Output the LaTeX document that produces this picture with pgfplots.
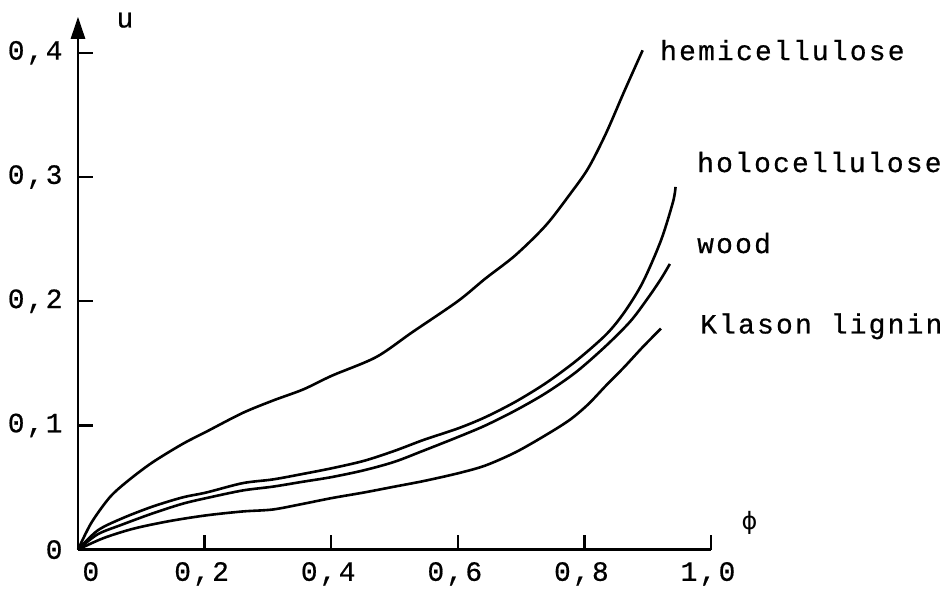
\documentclass[border=0pt]{standalone}
\usepackage{pgfplots}
\pgfplotsset{compat=1.18}
\usepackage{fontspec}
\setmainfont{Liberation Mono}[LetterSpace=8,FakeBold=0.6]
\newfontfamily\dejavu{DejaVu Sans}
\usetikzlibrary{arrows.meta,calc}
\newcommand{\bigf}{\fontsize{28}{30}\selectfont}

\pgfplotstableread{
x y
0 0
0.021 0.0215
0.050 0.042
0.078 0.055
0.117 0.070
0.165 0.085
0.203 0.095
0.260 0.110
0.308 0.120
0.356 0.129
0.401 0.140
0.471 0.155
0.528 0.175
0.600 0.200
0.643 0.218
0.691 0.237
0.739 0.261
0.777 0.286
0.806 0.307
0.834 0.335
0.863 0.369
0.892 0.402
}\hemi

\pgfplotstableread{
x y
0 0
0.031 0.0154
0.069 0.0250
0.117 0.0345
0.165 0.042
0.203 0.046
0.260 0.0535
0.308 0.0565
0.356 0.0610
0.401 0.0655
0.452 0.0715
0.500 0.0795
0.547 0.0885
0.600 0.0975
0.643 0.1065
0.691 0.119
0.739 0.134
0.787 0.152
0.834 0.173
0.863 0.191
0.892 0.215
0.921 0.249
0.940 0.280
0.944 0.292
}\holo

\pgfplotstableread{
x y
0 0
0.031 0.0123
0.069 0.020
0.117 0.029
0.165 0.0369
0.203 0.0415
0.260 0.0476
0.308 0.0507
0.356 0.0547
0.401 0.0584
0.452 0.0639
0.500 0.0707
0.547 0.0799
0.600 0.0906
0.643 0.0998
0.691 0.112
0.739 0.126
0.787 0.143
0.834 0.164
0.873 0.184
0.901 0.203
0.921 0.218
0.935 0.230
}\wood

\pgfplotstableread{
x y
0 0
0.040 0.0092
0.088 0.0169
0.145 0.023
0.203 0.0276
0.260 0.0307
0.308 0.0323
0.356 0.0369
0.401 0.0415
0.452 0.046
0.500 0.0507
0.547 0.0553
0.600 0.0614
0.643 0.0676
0.691 0.0783
0.739 0.0922
0.777 0.1045
0.806 0.117
0.834 0.132
0.863 0.147
0.892 0.163
0.921 0.178
}\lignin

\begin{document}
\begin{tikzpicture}
\begin{axis}[
  x=633bp, y=1242bp,
  xmin=0, xmax=1, ymin=0, ymax=0.429,
  axis lines=left,
  enlargelimits=false,
  clip=false,
  axis line style={line width=2.6bp},
  x axis line style={-},
  y axis line style={-{Triangle[width=14bp,length=22bp]}},
  tick style={line width=2.4bp, black},
  major tick length=15bp,
  tick align=inside,
  xtick={0.2,0.4,0.6,0.8,1.0},
  xticklabels={{0,2},{0,4},{0,6},{0,8},{1,0}},
  extra x ticks={0.025},
  extra x tick labels={0},
  extra x tick style={major tick length=0pt},
  ytick={0,0.1,0.2,0.3,0.4},
  yticklabels={0,{0,1},{0,2},{0,3},{0,4}},
  /pgf/number format/assume math mode=true,
  ticklabel style={font=\bigf},
  xticklabel style={anchor=north, yshift=-9bp, xshift=-3bp},
  yticklabel style={anchor=east, xshift=-12bp},
]
\coordinate (O) at (axis cs:0,0);
\addplot[black, line width=2.6bp, smooth] table {\hemi};
\addplot[black, line width=2.6bp, smooth] table {\holo};
\addplot[black, line width=2.6bp, smooth] table {\wood};
\addplot[black, line width=2.6bp, smooth] table {\lignin};
\node[anchor=base west, inner sep=0pt, font=\bigf] at (axis cs:0.9194,0.3941) {hemicellulose};
\node[anchor=base west, inner sep=0pt, font=\bigf] at (axis cs:0.9779,0.304) {holocellulose};
\node[anchor=base west, inner sep=0pt, font=\bigf] at (axis cs:0.9779,0.2388) {wood};
\node[anchor=base west, inner sep=0pt, font=\bigf] at (axis cs:0.9826,0.174) {Klason lignin};
\node[anchor=base, inner sep=0pt, font=\bigf] at (axis cs:0.0742,0.4204) {u};
\node[anchor=center, inner sep=0pt, font=\dejavu\fontsize{24}{26}\selectfont] at (axis cs:1.0608,0.0218) {ϕ};
\end{axis}
\pgfresetboundingbox
\path[use as bounding box] ($(O)+(-78bp,-48.4bp)$) rectangle ($(O)+(872bp,549.6bp)$);
\end{tikzpicture}
\end{document}
